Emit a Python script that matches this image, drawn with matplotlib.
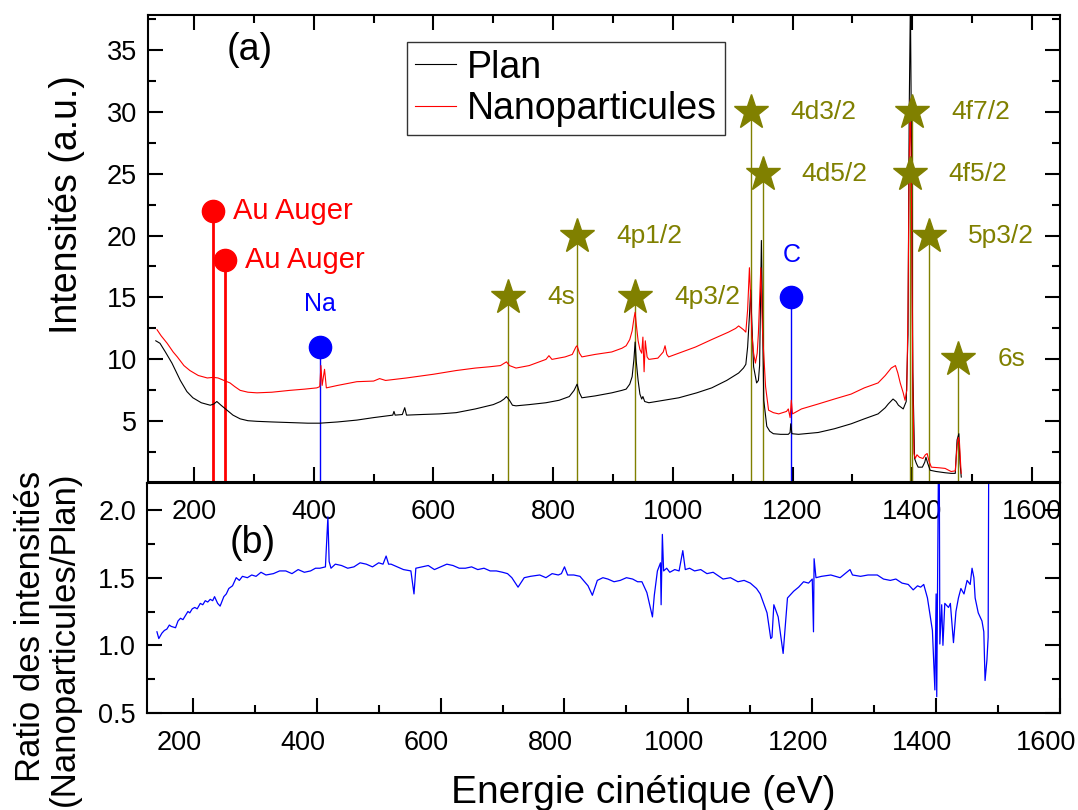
import matplotlib
matplotlib.use('Agg')
import matplotlib.pyplot as plt
import matplotlib.transforms as mtrans
from matplotlib.ticker import MultipleLocator, FormatStrFormatter

plt.rcParams['font.family'] = ['Liberation Sans', 'DejaVu Sans']

# --- (a) spectra ---
plan_e = [136, 143, 152, 163, 170, 177, 188, 198, 212, 227, 233, 238, 245, 255, 265, 277, 290, 305, 330, 360,
          390, 410, 440, 472, 500, 532, 534, 536, 548, 552, 555, 580, 610, 638, 670, 700, 712, 718, 722, 727,
          732, 738, 760, 788, 810, 827, 835, 840, 844, 848, 870, 898, 915, 922, 928, 932, 935, 937, 939, 942,
          945, 948, 950, 953, 960, 985, 1010, 1040, 1065, 1090, 1110, 1118, 1122, 1125, 1128, 1130, 1132, 1135,
          1140, 1143, 1145, 1148, 1150, 1152, 1157, 1162, 1168, 1180, 1193, 1196, 1197, 1199, 1210, 1243, 1270,
          1298, 1320, 1343, 1355, 1360, 1368, 1373, 1377, 1385, 1390, 1393, 1395, 1397, 1399, 1401, 1404, 1407,
          1410, 1417, 1421, 1423, 1426, 1430, 1440, 1455, 1465, 1472, 1475, 1478, 1480, 1482]
plan_i = [11.5, 11.3, 10.6, 9.7, 9.0, 8.3, 7.4, 6.9, 6.5, 6.3, 6.4, 6.6, 6.3, 5.9, 5.5, 5.2, 5.05, 5.0, 4.95, 4.9,
          4.85, 4.85, 4.95, 5.1, 5.3, 5.5, 5.8, 5.5, 5.55, 6.1, 5.5, 5.55, 5.6, 5.7, 6.0, 6.35, 6.6, 6.8, 7.0, 6.7,
          6.3, 6.25, 6.35, 6.5, 6.7, 7.0, 7.5, 8.0, 7.3, 6.9, 7.05, 7.3, 7.5, 7.6, 8.0, 8.6, 10.0, 11.4, 9.8, 8.3,
          7.2, 6.8, 7.0, 6.6, 6.5, 6.7, 6.9, 7.3, 7.7, 8.3, 8.9, 9.3, 9.6, 11.0, 13.5, 15.6, 13.0, 9.4,
          8.1, 8.3, 9.5, 19.6, 13.0, 6.7, 4.6, 4.2, 4.0, 3.95, 3.95, 4.1, 4.8, 4.0, 3.95, 4.1, 4.4,
          4.8, 5.2, 5.6, 6.1, 6.4, 6.8, 6.6, 6.3, 6.0, 6.6, 12.0, 30.0, 39.0, 26.0, 9.0, 2.0, 1.6,
          1.3, 1.3, 1.7, 2.1, 1.6, 1.05, 0.95, 0.85, 0.8, 0.8, 3.5, 4.0, 1.6, 0.5]

nano_e = [138, 145, 155, 165, 172, 183, 193, 207, 222, 232, 240, 250, 260, 268, 277, 290, 305, 330, 360, 385,
          405, 410, 412, 414, 418, 421, 440, 472, 500, 510, 520, 555, 600, 638, 670, 693, 712, 722, 727, 738,
          760, 788, 793, 798, 820, 832, 838, 840, 844, 848, 870, 898, 915, 922, 928, 932, 935, 937, 939, 942,
          945, 948, 950, 952, 954, 957, 960, 975, 984, 987, 990, 993, 1010, 1038, 1065, 1093, 1105, 1110, 1118,
          1122, 1125, 1128, 1130, 1132, 1135, 1138, 1141, 1143, 1147, 1149, 1150, 1155, 1160, 1168, 1177, 1190,
          1193, 1196, 1198, 1200, 1215, 1243, 1270, 1298, 1320, 1343, 1355, 1365, 1372, 1376, 1380, 1385, 1388,
          1391, 1393, 1395, 1397, 1399, 1401, 1403, 1405, 1408, 1412, 1418, 1422, 1425, 1428, 1432, 1445, 1455,
          1465, 1472, 1475, 1477, 1479, 1481, 1482]
nano_i = [12.4, 11.9, 11.3, 10.6, 10.2, 9.5, 9.1, 8.7, 8.5, 8.55, 8.5, 8.3, 8.1, 7.8, 7.5, 7.35, 7.3, 7.35, 7.5, 7.6,
          7.7, 7.8, 9.5, 7.9, 9.2, 7.7, 7.9, 8.2, 8.25, 8.45, 8.3, 8.5, 8.8, 9.1, 9.3, 9.4, 9.5, 9.8, 9.5, 9.3,
          9.5, 10.0, 10.3, 10.0, 10.2, 10.4, 11.0, 11.1, 10.5, 10.2, 10.4, 10.6, 10.9, 11.1, 11.6, 12.3, 13.3, 13.8, 12.8, 11.5,
          10.8, 10.5, 11.8, 9.0, 11.5, 10.2, 10.0, 10.1, 10.6, 11.1, 10.4, 10.2, 10.5, 11.0, 11.6, 12.2, 12.5, 12.7, 12.4,
          12.2, 14.0, 17.4, 15.0, 12.1, 10.5, 9.7, 10.5, 12.1, 17.4, 14.0, 12.1, 7.8, 5.9, 5.7, 5.6, 5.8,
          6.0, 5.3, 6.7, 5.6, 6.0, 6.4, 6.8, 7.2, 7.7, 8.1, 8.7, 9.3, 9.5, 8.9, 8.1, 7.3, 6.7,
          7.5, 14.0, 26.0, 31.0, 22.0, 8.0, 2.4, 2.0, 2.3, 2.1, 2.0, 2.3, 2.4, 1.8, 1.3, 1.25, 1.2,
          0.95, 1.0, 3.0, 3.7, 3.3, 1.5, 0.8]

# --- (b) ratio ---
ratio_e = [142, 145, 150, 154, 158, 162, 165, 172, 176, 180, 184, 188, 192, 195, 199, 203, 207, 212, 216, 220,
           224, 228, 232, 235, 240, 244, 250, 254, 258, 264, 270, 275, 280, 288, 295, 302, 310, 318, 330, 340,
           350, 360, 370, 380, 390, 398, 405, 414, 418, 420, 423, 430, 440, 450, 460, 470, 480, 490, 500, 507,
           512, 516, 520, 530, 540, 552, 557, 560, 570, 580, 590, 600, 610, 620, 630, 640, 650, 660, 670, 680,
           690, 700, 708, 715, 725, 735, 745, 760, 770, 780, 790, 795, 800, 805, 815, 825, 838, 845,
           853, 862, 870, 880, 890, 900, 910, 918, 925, 933, 942, 945, 950, 955, 956, 958, 960, 965, 970, 978,
           985, 991, 995, 1002, 1010, 1020, 1030, 1040, 1056, 1068, 1080, 1090, 1100, 1110, 1116, 1127, 1133, 1135,
           1138, 1145, 1153, 1160, 1170, 1178, 1186, 1194, 1200, 1202, 1203, 1206, 1215, 1230, 1245,
           1261, 1265, 1278, 1290, 1305, 1315, 1326, 1335, 1345, 1355, 1363, 1370, 1375, 1380, 1386, 1394, 1398,
           1400, 1401, 1404, 1405, 1406, 1409, 1411, 1414, 1420, 1423, 1428, 1432, 1436, 1440, 1445, 1450, 1455,
           1458, 1461, 1463, 1468, 1474, 1477, 1479, 1482, 1484, 1485]
ratio_v = [1.10, 1.05, 1.09, 1.11, 1.12, 1.15, 1.14, 1.13, 1.18, 1.20, 1.19, 1.22, 1.25, 1.24, 1.27, 1.28, 1.27, 1.31, 1.30, 1.33,
           1.32, 1.34, 1.33, 1.36, 1.31, 1.29, 1.36, 1.38, 1.42, 1.44, 1.50, 1.48, 1.51, 1.50, 1.52, 1.51, 1.54, 1.52, 1.53, 1.55,
           1.55, 1.53, 1.56, 1.54, 1.55, 1.57, 1.57, 1.58, 1.95, 1.62, 1.57, 1.60, 1.59, 1.57, 1.58, 1.61, 1.60, 1.58, 1.61, 1.60,
           1.66, 1.60, 1.60, 1.58, 1.56, 1.55, 1.38, 1.57, 1.58, 1.59, 1.56, 1.58, 1.60, 1.59, 1.57, 1.57, 1.58, 1.56, 1.57, 1.55,
           1.55, 1.54, 1.53, 1.50, 1.43, 1.50, 1.51, 1.52, 1.50, 1.53, 1.52, 1.53, 1.58, 1.52, 1.52, 1.51, 1.44, 1.37,
           1.48, 1.50, 1.49, 1.47, 1.48, 1.50, 1.49, 1.47, 1.47, 1.39, 1.21, 1.37, 1.55, 1.61, 1.30, 1.82, 1.55, 1.57, 1.54, 1.56,
           1.55, 1.70, 1.56, 1.57, 1.55, 1.56, 1.53, 1.54, 1.49, 1.50, 1.47, 1.48, 1.46, 1.42, 1.38, 1.24, 1.05, 1.06,
           1.30, 1.21, 0.94, 1.35, 1.40, 1.43, 1.47, 1.46, 1.49, 1.10, 1.64, 1.50, 1.51, 1.52, 1.50,
           1.56, 1.52, 1.51, 1.52, 1.52, 1.49, 1.48, 1.49, 1.46, 1.45, 1.41, 1.44, 1.43, 1.45, 1.35, 1.11, 0.67,
           1.38, 0.62, 2.5, 2.5, 1.01, 1.30, 1.00, 1.31, 1.28, 1.31, 1.02, 1.25, 1.35, 1.42, 1.38, 1.48, 1.45,
           1.57, 1.50, 1.35, 1.24, 1.18, 1.10, 0.74, 0.89, 1.06, 2.5]

# --- peak markers ---
auger_e = [232, 252]
auger_h = [22, 18]
na_e, na_h = 411, 11
c_e, c_h = 1198, 15
star_names = ['4s', '4p1/2', '4p3/2', '4d3/2', '4d5/2', '4f7/2', '4f5/2', '5p3/2', '6s']
star_e = [725, 840, 937, 1131, 1150, 1400, 1396, 1428, 1477]
star_h = [15, 20, 15, 30, 25, 30, 25, 20, 10]

OLIVE = '#808000'

fig = plt.figure(figsize=(10.78, 8.10), dpi=100)
ax1 = fig.add_axes([0.1373, 0.4049, 0.8460, 0.5766])
ax2 = fig.add_axes([0.1364, 0.1198, 0.8469, 0.2839])
ax2.set_facecolor('none')

# top panel
ax1.plot(plan_e, plan_i, color='black', lw=0.8, label='Plan', zorder=3)
ax1.plot(nano_e, nano_i, color='red', lw=0.8, label='Nanoparticules', zorder=3)

for e, h in zip(auger_e, auger_h):
    ax1.plot([e, e], [0, h], color='red', lw=2, zorder=2)
    ax1.plot(e, h, 'o', color='red', ms=16, zorder=4)
    ax1.annotate('Au Auger', (e, h), xytext=(14, 0), textcoords='offset points',
                 color='red', fontsize=21, va='center', ha='left')

for e, h, lab, dy in [(na_e, na_h, 'Na', 3.5), (c_e, c_h, 'C', 3.4)]:
    ax1.plot([e, e], [0, h], color='blue', lw=1, zorder=2)
    ax1.plot(e, h, 'o', color='blue', ms=16, zorder=4)
    ax1.text(e, h + dy, lab, color='blue', fontsize=18, ha='center', va='center')

for name, e, h in zip(star_names, star_e, star_h):
    ax1.plot([e, e], [0, h], color=OLIVE, lw=1, zorder=2)
    ax1.plot(e, h, '*', color=OLIVE, ms=26, zorder=4)
    ax1.annotate(name, (e, h), xytext=(28, 0), textcoords='offset points',
                 color=OLIVE, fontsize=19, va='center', ha='left')

ax1.set_xlim(123, 1647)
ax1.set_ylim(0.1, 37.8)
ax1.xaxis.set_major_locator(MultipleLocator(200))
ax1.xaxis.set_minor_locator(MultipleLocator(100))
ax1.yaxis.set_minor_locator(MultipleLocator(2.5))
ax1.set_yticks([5, 10, 15, 20, 25, 30, 35])
ax1.tick_params(which='both', direction='in', top=True, right=True, width=1.5, labelsize=19.5)
ax1.tick_params(which='major', length=11)
ax1.tick_params(which='minor', length=6)
ax1.tick_params(axis='x', pad=12)
ax1.tick_params(axis='y', pad=8)
for s in ax1.spines.values():
    s.set_linewidth(1.5)

leg = ax1.legend(loc='upper left', bbox_to_anchor=(0.284, 0.942), borderaxespad=0, fontsize=27,
                 frameon=True, fancybox=False, handlelength=1.1, handletextpad=0.3,
                 labelspacing=0.15, borderpad=0.2)
leg.get_frame().set_edgecolor('black')
leg.get_frame().set_linewidth(1)
ax1.text(0.112, 0.925, '(a)', transform=ax1.transAxes, fontsize=27, ha='center', va='center')

# bottom panel
ax2.plot(ratio_e, ratio_v, color='blue', lw=0.9)
ax2.set_xlim(126, 1600)
ax2.set_ylim(0.5, 2.2)
ax2.set_xticks([200, 400, 600, 800, 1000, 1200, 1400, 1600])
ax2.xaxis.set_minor_locator(MultipleLocator(100))
ax2.set_yticks([0.5, 1.0, 1.5, 2.0])
ax2.yaxis.set_minor_locator(MultipleLocator(0.25))
ax2.yaxis.set_major_formatter(FormatStrFormatter('%.1f'))
ax2.tick_params(which='both', direction='in', top=False, right=True, width=1.5, labelsize=19.5)
ax2.tick_params(which='major', length=11)
ax2.tick_params(which='minor', length=6)
ax2.tick_params(axis='x', pad=12)
ax2.tick_params(axis='y', pad=8)
for s in ax2.spines.values():
    s.set_linewidth(1.5)
ax2.text(0.116, 0.74, '(b)', transform=ax2.transAxes, fontsize=27, ha='center', va='center')

fig.text(0.062, 0.747, 'Intensités (a.u.)', rotation=90, fontsize=27, ha='center', va='center')
fig.text(0.044, 0.212, 'Ratio des intensitiés\n(Nanoparticules/Plan)', rotation=90, fontsize=25,
         ha='center', va='center', linespacing=1.0, multialignment='right')
fig.text(0.597, 0.021, 'Energie cinétique (eV)', fontsize=28, ha='center', va='center')

# bottom x labels sit a little left of their ticks in the original
fig.canvas.draw()
shift = mtrans.ScaledTranslation(-0.14, 0, fig.dpi_scale_trans)
for lab in ax2.get_xticklabels():
    lab.set_transform(lab.get_transform() + shift)

fig.savefig('out.png', dpi=100)
